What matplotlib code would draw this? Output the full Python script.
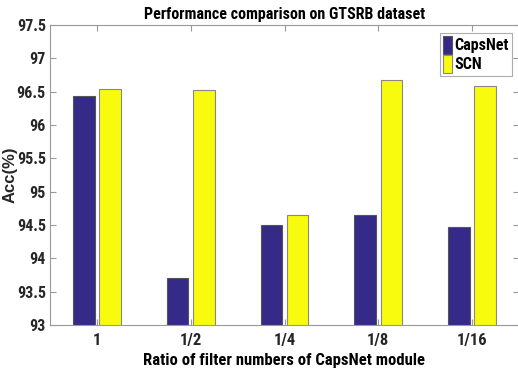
import matplotlib
matplotlib.use("Agg")
import matplotlib.pyplot as plt
import numpy as np

categories = ["1", "1/2", "1/4", "1/8", "1/16"]
capsnet = [96.43, 93.71, 94.50, 94.65, 94.47]
scn = [96.54, 96.53, 94.65, 96.68, 96.58]
yticks = [93, 93.5, 94, 94.5, 95, 95.5, 96, 96.5, 97, 97.5]
ytick_labels = ["93", "93.5", "94", "94.5", "95", "95.5", "96", "96.5", "97", "97.5"]

plt.rcParams["font.family"] = ["Roboto Condensed", "Liberation Sans", "DejaVu Sans"]
plt.rcParams["font.weight"] = "bold"

W, H = 518, 379
fig = plt.figure(figsize=(W / 100, H / 100), dpi=100)
left, right, top, bottom = 50, 519, 25, 325
ax = fig.add_axes([left / W, 1 - bottom / H, (right - left) / W, (bottom - top) / H])

x = np.arange(1, len(categories) + 1)
bw = 0.23
off = 0.14
ax.bar(x - off, capsnet, width=bw, color="#352a87", edgecolor="#555555", linewidth=0.8, label="CapsNet", zorder=2)
ax.bar(x + off, scn, width=bw, color="#f9fb0e", edgecolor="#888888", linewidth=0.8, label="SCN", zorder=2)

ax.set_xlim(0.5, 5.5)
ax.set_ylim(93, 97.5)
ax.set_xticks(x)
ax.set_xticklabels(categories, fontsize=12, fontweight="bold", color="#262626")
ax.set_yticks(yticks)
ax.set_yticklabels(ytick_labels, fontsize=11.5, fontweight="bold", color="#262626")
ax.tick_params(axis="x", direction="in", top=True, length=4, color="#999999", pad=6)
ax.tick_params(axis="y", direction="in", right=True, length=4, color="#999999", pad=3)
for s in ax.spines.values():
    s.set_color("#999999")
    s.set_linewidth(0.8)

ax.set_title("Performance comparison on GTSRB dataset", fontsize=11.5, fontweight="bold", pad=4)
ax.set_xlabel("Ratio of filter numbers of CapsNet module", fontsize=12, fontweight="bold", labelpad=3)
ax.set_ylabel("Acc(%)", fontsize=12, fontweight="bold", family=["Liberation Sans", "DejaVu Sans"], color="#262626")
ax.yaxis.set_label_coords(-0.07, 0.5)

leg = ax.legend(loc="upper right", bbox_to_anchor=(0.985, 0.973), fontsize=11.5, frameon=True, fancybox=False,
                edgecolor="#999999", handlelength=0.55, handleheight=1.3, handletextpad=0.15,
                labelspacing=0.1, borderpad=0.2, borderaxespad=0.0)
leg.get_frame().set_linewidth(0.8)
for t in leg.get_texts():
    t.set_fontweight("bold")

fig.savefig("out.png", dpi=100)
